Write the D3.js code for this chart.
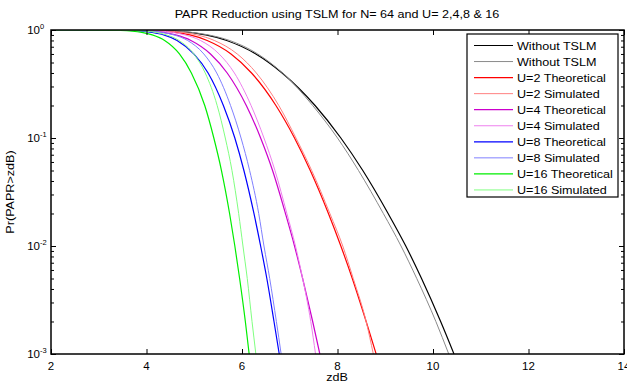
<!DOCTYPE html>
<html>
<head>
<meta charset="utf-8">
<script src="https://cdn.jsdelivr.net/npm/d3@7"></script>
<style>
  body { margin: 0; background: #fff; }
  text { font-family: "Liberation Sans", Arial, sans-serif; fill: #000; }
</style>
</head>
<body>
<div id="chart"></div>
<script>
// probability levels shared by all curves
var pLevels = [1, 0.999, 0.99, 0.95, 0.9, 0.8, 0.6, 0.4, 0.2, 0.1, 0.05, 0.02, 0.01, 0.005, 0.002, 0.001];

// zdB where each curve reaches the levels above
var zNoTheory  = [2, 3.58, 4.26, 4.89, 5.24, 5.68, 6.29, 6.84, 7.53, 8.07, 8.53, 9.06, 9.43, 9.76, 10.16, 10.44];
var zNoSim     = [2, 3.62, 4.31, 4.95, 5.30, 5.74, 6.33, 6.85, 7.48, 8.00, 8.44, 8.96, 9.33, 9.66, 10.06, 10.33];
var zU2Theory  = [2, 3.40, 4.04, 4.60, 4.91, 5.27, 5.77, 6.20, 6.71, 7.10, 7.43, 7.81, 8.07, 8.31, 8.60, 8.81];
var zU2Sim     = [2, 3.52, 4.18, 4.75, 5.06, 5.42, 5.90, 6.30, 6.77, 7.13, 7.46, 7.84, 8.11, 8.33, 8.60, 8.75];
var zU4Theory  = [2, 3.24, 3.83, 4.35, 4.61, 4.93, 5.34, 5.69, 6.09, 6.39, 6.64, 6.91, 7.10, 7.27, 7.48, 7.63];
var zU4Sim     = [2, 3.40, 4.02, 4.55, 4.81, 5.13, 5.52, 5.84, 6.19, 6.46, 6.69, 6.94, 7.12, 7.27, 7.44, 7.54];
var zU8Theory  = [2, 3.08, 3.64, 4.11, 4.36, 4.64, 4.99, 5.29, 5.61, 5.85, 6.04, 6.25, 6.39, 6.52, 6.67, 6.78];
var zU8Sim     = [2, 3.28, 3.86, 4.33, 4.58, 4.86, 5.20, 5.47, 5.76, 5.98, 6.16, 6.35, 6.46, 6.58, 6.72, 6.82];
var zU16Theory = [2, 2.93, 3.46, 3.90, 4.12, 4.38, 4.69, 4.94, 5.22, 5.41, 5.57, 5.74, 5.85, 5.95, 6.07, 6.15];
var zU16Sim    = [2, 3.20, 3.75, 4.20, 4.42, 4.68, 4.99, 5.23, 5.48, 5.65, 5.79, 5.93, 6.02, 6.11, 6.21, 6.29];

var seriesNames = ["Without TSLM", "Without TSLM", "U=2 Theoretical", "U=2 Simulated", "U=4 Theoretical",
                   "U=4 Simulated", "U=8 Theoretical", "U=8 Simulated", "U=16 Theoretical", "U=16 Simulated"];
var seriesZ = [zNoTheory, zNoSim, zU2Theory, zU2Sim, zU4Theory, zU4Sim, zU8Theory, zU8Sim, zU16Theory, zU16Sim];
var seriesColors = ["#000000", "#8a8a8a", "#ff0000", "#ff8080", "#cc00cc", "#ee80ee", "#0000ff", "#8080ff", "#00ee00", "#80ff80"];

var xTicks = [2, 4, 6, 8, 10, 12, 14];
var yExps = [0, -1, -2, -3];

var w = 627, h = 383,
    plotLeft = 51, plotRight = 624, plotTop = 30, plotBottom = 354;

var svg = d3.select("#chart").append("svg")
    .attr("width", w).attr("height", h);

var xScale = d3.scaleLinear().domain([2, 14]).range([plotLeft, plotRight]);
var yScale = d3.scaleLog().domain([1e-3, 1]).range([plotBottom, plotTop]);

svg.append("defs").append("clipPath").attr("id", "clip")
  .append("rect").attr("x", plotLeft).attr("y", plotTop)
  .attr("width", plotRight - plotLeft).attr("height", plotBottom - plotTop);

// curves
var line = d3.line()
    .x(function(d) { return xScale(d[0]); })
    .y(function(d) { return yScale(d[1]); })
    .curve(d3.curveMonotoneX);

var curves = svg.append("g").attr("clip-path", "url(#clip)");
seriesZ.forEach(function(zs, i) {
  var pts = zs.map(function(z, k) { return [z, pLevels[k]]; });
  curves.append("path")
      .attr("d", line(pts))
      .attr("fill", "none")
      .attr("stroke", seriesColors[i])
      .attr("stroke-width", i % 2 == 0 ? 1.2 : 1);
});

// axes (matlab style, ticks inside on all four sides)
var xBottom = d3.axisBottom(xScale).tickValues(xTicks).tickSizeInner(-5).tickSizeOuter(0).tickFormat("");
var xTop = d3.axisTop(xScale).tickValues(xTicks).tickSizeInner(-5).tickSizeOuter(0).tickFormat("");
svg.append("g").attr("transform", "translate(0," + plotBottom + ")").call(xBottom);
svg.append("g").attr("transform", "translate(0," + plotTop + ")").call(xTop);

var minorVals = [];
yExps.slice(1).forEach(function(e) {
  for (var m = 2; m <= 9; m++) minorVals.push(m * Math.pow(10, e));
});
var majorVals = yExps.map(function(e) { return Math.pow(10, e); });

svg.append("g").attr("transform", "translate(" + plotLeft + ",0)")
    .call(d3.axisLeft(yScale).tickValues(majorVals).tickSizeInner(-5).tickSizeOuter(0).tickFormat(""));
svg.append("g").attr("transform", "translate(" + plotLeft + ",0)")
    .call(d3.axisLeft(yScale).tickValues(minorVals).tickSizeInner(-3).tickSizeOuter(0).tickFormat(""));
svg.append("g").attr("transform", "translate(" + plotRight + ",0)")
    .call(d3.axisRight(yScale).tickValues(majorVals).tickSizeInner(-5).tickSizeOuter(0).tickFormat(""));
svg.append("g").attr("transform", "translate(" + plotRight + ",0)")
    .call(d3.axisRight(yScale).tickValues(minorVals).tickSizeInner(-3).tickSizeOuter(0).tickFormat(""));

svg.selectAll(".domain").remove();
svg.selectAll(".tick text").remove();
svg.selectAll(".tick line").attr("stroke", "#000");

svg.append("rect")
    .attr("x", plotLeft).attr("y", plotTop)
    .attr("width", plotRight - plotLeft).attr("height", plotBottom - plotTop)
    .attr("fill", "none").attr("stroke", "#000").attr("stroke-width", 1.5);

// tick labels
svg.append("g").selectAll("text").data(xTicks).enter().append("text")
    .attr("x", function(d) { return xScale(d); })
    .attr("y", plotBottom + 16)
    .attr("text-anchor", "middle")
    .attr("font-size", 11.5)
    .text(function(d) { return d; });

var yl = svg.append("g").selectAll("g").data(yExps).enter().append("g");
yl.append("text")
    .attr("x", 40).attr("y", function(d) { return yScale(Math.pow(10, d)) + 4; })
    .attr("text-anchor", "end").attr("font-size", 11.5)
    .text("10");
yl.append("text")
    .attr("x", 40).attr("y", function(d) { return yScale(Math.pow(10, d)) - 1; })
    .attr("font-size", 7.5)
    .text(function(d) { return d == 0 ? "0" : "-" + (-d); });

// title and axis labels (slightly stretched text, as in the source)
function wideText(x, y, str, anchor, rot) {
  return svg.append("text")
      .attr("transform", "translate(" + x + "," + y + ")" + (rot ? " rotate(" + rot + ")" : "") + " scale(1.2,1)")
      .attr("text-anchor", anchor)
      .attr("font-size", 10.5)
      .text(str);
}
wideText(337, 18, "PAPR Reduction using TSLM for N= 64 and U= 2,4,8 & 16", "middle");
wideText(337, 381, "zdB", "middle");
wideText(14, 192, "Pr(PAPR>zdB)", "middle", -90);

// legend
var lg = svg.append("g");
lg.append("rect")
    .attr("x", 467).attr("y", 34).attr("width", 151).attr("height", 163)
    .attr("fill", "#fff").attr("stroke", "#000").attr("stroke-width", 1.2);
seriesNames.forEach(function(name, i) {
  var yy = 45.5 + i * 16.05;
  lg.append("line")
      .attr("x1", 474).attr("x2", 513).attr("y1", yy).attr("y2", yy)
      .attr("stroke", seriesColors[i]).attr("stroke-width", i % 2 == 0 ? 1.2 : 1);
  lg.append("text")
      .attr("transform", "translate(517," + (yy + 4) + ") scale(1.2,1)")
      .attr("font-size", 10.5)
      .text(name);
});
</script>
</body>
</html>
